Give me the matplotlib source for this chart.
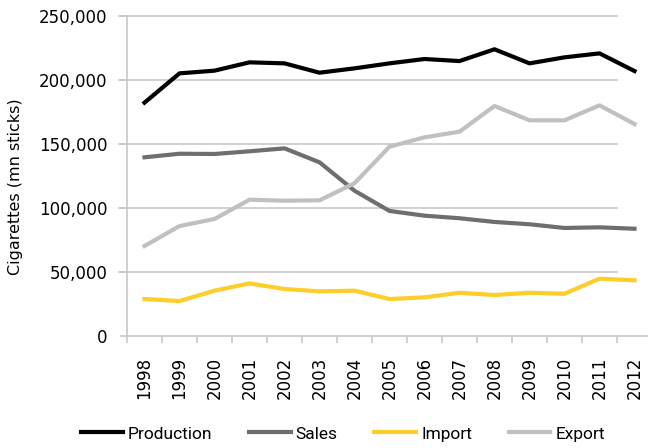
import matplotlib
matplotlib.use("Agg")
import matplotlib.pyplot as plt
from matplotlib.ticker import FuncFormatter

years = [str(y) for y in range(1998, 2013)]
production = [182300, 205200, 207300, 213800, 213000, 205700, 209100, 213000,
              216400, 214800, 224000, 213000, 217700, 220800, 207000]
sales = [139600, 142400, 142200, 144300, 146600, 135700, 113500, 97700,
         94000, 92000, 89100, 87300, 84400, 84900, 83800]
imports = [28900, 27300, 35400, 41100, 36700, 34900, 35400, 28900,
           30200, 33800, 32000, 33800, 33000, 44800, 43500]
exports = [70300, 85900, 91400, 106500, 105700, 106000, 119300, 147900,
           155200, 159600, 179700, 168500, 168500, 180200, 165600]

plt.rcParams['font.family'] = ['DejaVu Sans']
W, H = 648, 448
fig = plt.figure(figsize=(W / 100, H / 100), dpi=100)
# plot area runs a bit past the right edge, as in the original
ax = fig.add_axes([127 / W, 1 - 336 / H, (652 - 127) / W, (336 - 16) / H])

x = range(len(years))
ax.plot(x, production, color='black', lw=3, label='Production', zorder=3)
ax.plot(x, sales, color='#6e6e6e', lw=3, label='Sales', zorder=3)
ax.plot(x, imports, color='#fdcd2a', lw=3, label='Import', zorder=3)
ax.plot(x, exports, color='#c0c0c0', lw=3, label='Export', zorder=3)

ax.set_xlim(-0.5, len(years) - 0.5)
ax.set_ylim(0, 250000)
ax.set_yticks(range(0, 250001, 50000))
ax.yaxis.set_major_formatter(FuncFormatter(lambda v, p: f"{int(v):,}"))
ax.set_xticks([i - 0.5 for i in range(len(years) + 1)])
ax.set_xticklabels([])
ax.set_xticks(list(x), minor=True)
ax.set_xticklabels(years, minor=True, rotation=90)

# gridlines stop short of the last category, as in the source
for v in range(50000, 250001, 50000):
    ax.plot([-0.5 - 0.22, 13.5], [v, v], color='#c8c8c8', lw=1.2, zorder=1,
            clip_on=False)

for s in ['top', 'right']:
    ax.spines[s].set_visible(False)
for s in ['left', 'bottom']:
    ax.spines[s].set_color('#c8c8c8')
    ax.spines[s].set_linewidth(1.2)

ax.tick_params(axis='y', which='major', length=5, color='#c8c8c8', width=1.2,
               pad=9, labelsize=12)
ax.tick_params(axis='x', which='major', length=5, color='#c8c8c8', width=1.2)
ax.tick_params(axis='x', which='minor', length=0, pad=15, labelsize=12)

ax.set_ylabel('Cigarettes (mn sticks)', fontsize=11.5)
ax.yaxis.set_label_coords(-(127 - 23) / (652 - 127), (336 - 186.5) / 320)

fig.legend(loc='center', bbox_to_anchor=(343 / W, 1 - 434 / H), ncol=4,
           frameon=False, prop={'family': 'Roboto', 'size': 12.5},
           handlelength=2.4, handletextpad=0.3, columnspacing=2.1)

fig.savefig('out.png', dpi=100)
